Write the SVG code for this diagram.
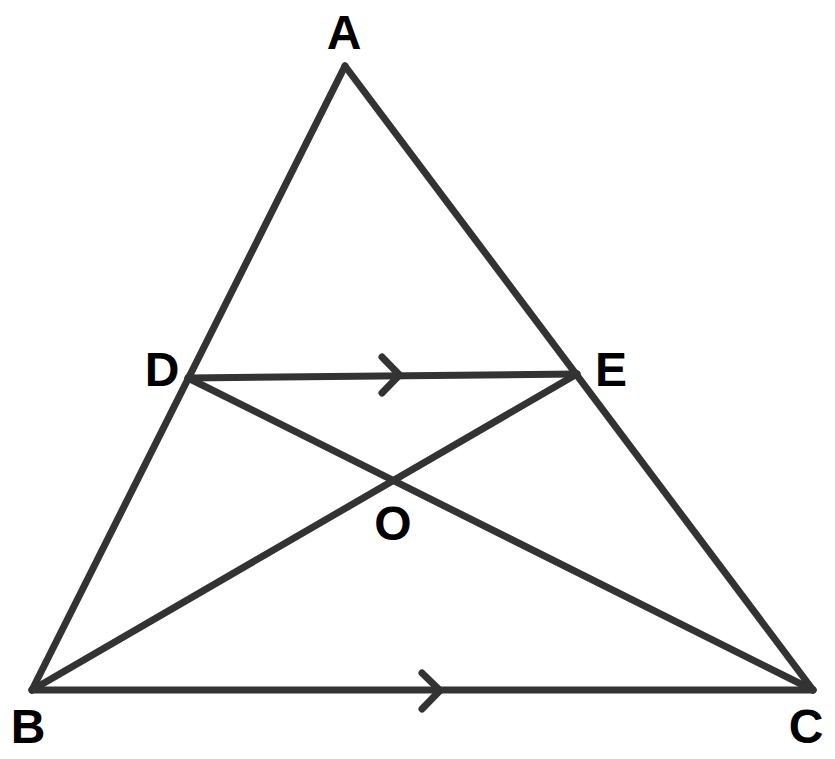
<svg xmlns="http://www.w3.org/2000/svg" width="835" height="759" viewBox="0 0 835 759">
<style>
.ln{stroke:#333;stroke-width:7;stroke-linecap:round;stroke-linejoin:round;fill:none}
.lb{font-family:"Liberation Sans",Arial,sans-serif;font-weight:bold;font-size:48px;fill:#000;text-anchor:middle}
</style>
<rect width="835" height="759" fill="#fff"/>
<g id="connectors">
<line class="ln" x1="345" y1="66" x2="32" y2="690"/>
<line class="ln" x1="345" y1="66" x2="813" y2="690"/>
<line class="ln" x1="32" y1="690" x2="813" y2="690"/>
<line class="ln" x1="188" y1="378" x2="577" y2="374"/>
<line class="ln" x1="188" y1="378" x2="813" y2="690"/>
<line class="ln" x1="577" y1="374" x2="32" y2="690"/>
<polyline class="ln" points="382,357 399.5,375 382,393"/>
<polyline class="ln" points="422,673 440,690.5 422,709"/>
</g>
<g id="A"><text class="lb" x="344" y="49">A</text></g>
<g id="D"><text class="lb" x="162" y="386">D</text></g>
<g id="E"><text class="lb" x="611" y="386">E</text></g>
<g id="O"><text class="lb" x="393" y="540">O</text></g>
<g id="B"><text class="lb" x="28" y="743">B</text></g>
<g id="C"><text class="lb" x="806" y="743">C</text></g>
</svg>
